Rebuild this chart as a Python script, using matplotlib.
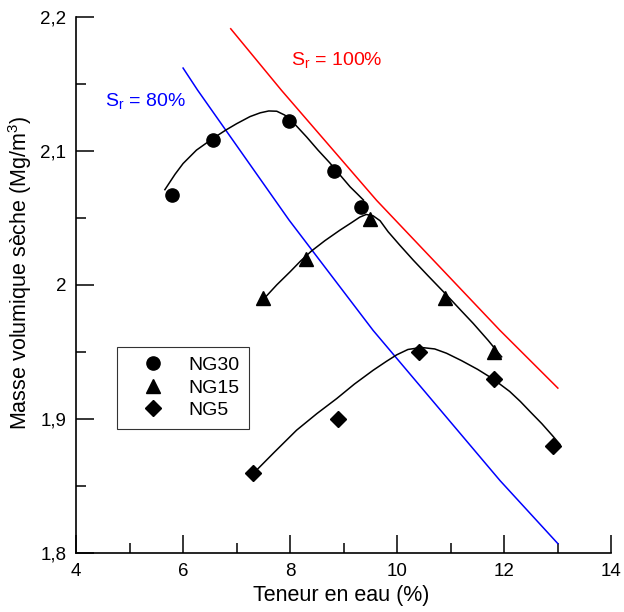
import matplotlib
matplotlib.use("Agg")
import matplotlib.pyplot as plt

plt.rcParams['font.family'] = ['Liberation Sans', 'DejaVu Sans']
plt.rcParams['mathtext.fontset'] = 'custom'
plt.rcParams['mathtext.rm'] = 'Liberation Sans'
plt.rcParams['mathtext.it'] = 'Liberation Sans'

# measured points
ng30_x = [5.8, 6.55, 7.98, 8.82, 9.32]
ng30_y = [2.067, 2.108, 2.122, 2.085, 2.058]
ng15_x = [7.5, 8.3, 9.5, 10.9, 11.8]
ng15_y = [1.99, 2.019, 2.049, 1.99, 1.95]
ng5_x = [7.3, 8.9, 10.4, 11.8, 12.9]
ng5_y = [1.86, 1.90, 1.95, 1.93, 1.88]

# fitted curves
ng30_cx = [5.66, 5.85, 6.0, 6.25, 6.55, 6.8, 7.0, 7.25, 7.44, 7.6, 7.75, 7.9,
           8.09, 8.31, 8.52, 8.74, 8.93, 9.12, 9.25, 9.37]
ng30_cy = [2.071, 2.0825, 2.0905, 2.1005, 2.109, 2.1155, 2.1202, 2.1255, 2.1283,
           2.1297, 2.1295, 2.1266, 2.1197, 2.1102, 2.1005, 2.091, 2.082, 2.0731,
           2.068, 2.0632]
ng15_cx = [7.53, 7.75, 8.0, 8.2, 8.4, 8.65, 8.93, 9.15, 9.3, 9.42, 9.55, 9.68,
           9.83, 10.05, 10.3, 10.57, 10.92, 11.2, 11.42, 11.7, 11.95]
ng15_cy = [1.9905, 2.0, 2.0098, 2.018, 2.0253, 2.033, 2.0408, 2.0465, 2.0505,
           2.0525, 2.0515, 2.0478, 2.0396, 2.0295, 2.0184, 2.007, 1.9925, 1.9805,
           1.9712, 1.9585, 1.9463]
ng5_cx = [7.37, 7.7, 8.12, 8.5, 8.87, 9.2, 9.55, 9.8, 9.99, 10.2, 10.45, 10.7,
          10.92, 11.2, 11.5, 11.79, 12.1, 12.3, 12.48, 12.7, 12.9, 13.04]
ng5_cy = [1.8617, 1.875, 1.8916, 1.904, 1.9152, 1.926, 1.9363, 1.943, 1.9478,
          1.9518, 1.9533, 1.9522, 1.949, 1.9435, 1.937, 1.9298, 1.9205, 1.913,
          1.9055, 1.8965, 1.8875, 1.881]

# saturation lines
sr80_x = [6.0, 6.27, 7.98, 9.55, 11.92, 13.0]
sr80_y = [2.1617, 2.1453, 2.0483, 1.966, 1.854, 1.807]
sr100_x = [6.89, 7.84, 9.615, 11.92, 13.0]
sr100_y = [2.191, 2.145, 2.063, 1.966, 1.923]

x_ticks = [4, 6, 8, 10, 12, 14]
y_ticks = [1.8, 1.9, 2.0, 2.1, 2.2]
y_tick_labels = ['1,8', '1,9', '2', '2,1', '2,2']

fig = plt.figure(figsize=(6.24, 6.12), dpi=100)
ax = fig.add_axes([0.1218, 0.0964, 0.858, 0.8763])

ax.plot(sr80_x, sr80_y, color='#0000ff', lw=1.1)
ax.plot(sr100_x, sr100_y, color='#ff0000', lw=1.1)

ax.plot(ng30_cx, ng30_cy, color='black', lw=1.1)
ax.plot(ng15_cx, ng15_cy, color='black', lw=1.1)
ax.plot(ng5_cx, ng5_cy, color='black', lw=1.1)

ax.plot(ng30_x, ng30_y, 'o', color='black', ms=9.5, ls='none', label='NG30')
ax.plot(ng15_x, ng15_y, '^', color='black', ms=10, ls='none', label='NG15')
ax.plot(ng5_x, ng5_y, 'D', color='black', ms=8, ls='none', label='NG5')

ax.text(4.54, 2.1334, r'S$_\mathrm{r}$ = 80%', color='#0000ff', fontsize=14,
        va='baseline', ha='left')
ax.text(8.02, 2.164, r'S$_\mathrm{r}$ = 100%', color='#ff0000', fontsize=14,
        va='baseline', ha='left')

ax.set_xlim(4, 14)
ax.set_ylim(1.8, 2.2)
ax.set_xticks(x_ticks)
ax.set_xticks([5, 7, 9, 11, 13], minor=True)
ax.set_yticks(y_ticks)
ax.set_yticklabels(y_tick_labels)
ax.set_yticks([1.85, 1.95, 2.05, 2.15], minor=True)

for s in ['top', 'right']:
    ax.spines[s].set_visible(False)
for s in ['left', 'bottom']:
    ax.spines[s].set_linewidth(1.2)

ax.tick_params(which='major', direction='in', length=13.3, width=1.1,
               labelsize=13.5, pad=7)
ax.tick_params(which='minor', direction='in', length=7.2, width=1.1)

ax.set_xlabel('Teneur en eau (%)', fontsize=15.5)
ax.set_ylabel('Masse volumique sèche (Mg/m$^3$)', fontsize=15.5)
ax.xaxis.set_label_coords(0.495, -0.06)
ax.yaxis.set_label_coords(-0.079, 0.522)

leg = ax.legend(loc='upper left', bbox_to_anchor=(0.0766, 0.385),
                borderaxespad=0, fontsize=14, frameon=True, fancybox=False,
                edgecolor='black', handlelength=2.66, handletextpad=0.5,
                borderpad=0.5, labelspacing=0.26, numpoints=1)
leg.get_frame().set_linewidth(0.8)

fig.savefig('out.png', dpi=100)
